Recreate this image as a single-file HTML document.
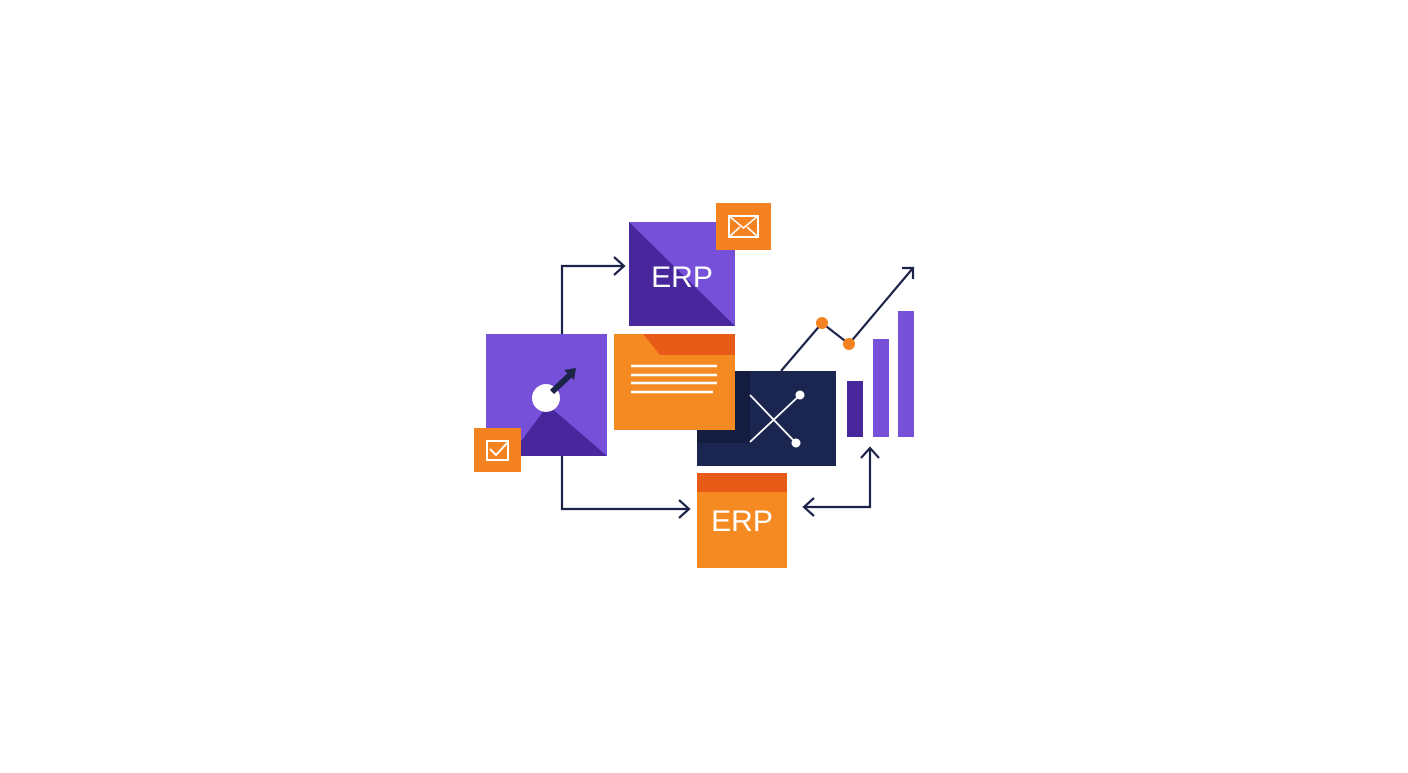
<!DOCTYPE html>
<html><head><style>body{margin:0;background:#fff}</style></head><body>
<svg width="1408" height="768" viewBox="0 0 1408 768" xmlns="http://www.w3.org/2000/svg" font-family="Liberation Sans, sans-serif">
<rect width="1408" height="768" fill="#fff"/>
<g fill="none" stroke="#1b2348" stroke-width="2.2">
<path d="M562 334V266H624"/><path d="M614 257l10 9-10 9"/>
<path d="M562 456V509H689"/><path d="M679 500l10 9-10 9"/>
<path d="M870 449V507H804"/><path d="M814 498l-10 9 10 9"/><path d="M861 458l9-10 9 10"/>
<path d="M781 371L822 323L849 344L913 268"/><path d="M902 268h11v11"/>
</g>
<!-- top ERP -->
<rect x="629" y="222" width="106" height="104" fill="#7650d8"/>
<polygon points="629,222 735,326 629,326" fill="#48279c"/>
<text x="682" y="287" fill="#fff" font-size="30" text-anchor="middle">ERP</text>
<rect x="716" y="203" width="55" height="47" fill="#f58220"/>
<rect x="729" y="216" width="29" height="21" fill="none" stroke="#fff" stroke-width="2"/>
<path d="M729 216l14.5 12 14.5-12M729 237l11-10M758 237l-11-10" fill="none" stroke="#fff" stroke-width="1.6"/>
<!-- left box -->
<rect x="486" y="334" width="121" height="122" fill="#7650d8"/>
<polygon points="510,456 548,405 607,456" fill="#48279c"/>
<circle cx="546" cy="398" r="14" fill="#fff"/>
<path d="M552 392L570 375" stroke="#1b2348" stroke-width="6"/>
<polygon points="564,370 576,368 574,380" fill="#1b2348"/>
<rect x="474" y="428" width="47" height="44" fill="#f58220"/>
<rect x="487" y="441" width="21" height="19" fill="none" stroke="#fff" stroke-width="2"/>
<path d="M490 449l6 6 12-13" fill="none" stroke="#fff" stroke-width="2"/>
<!-- navy -->
<rect x="697" y="371" width="139" height="95" fill="#1b2650"/>
<rect x="697" y="371" width="53" height="72" fill="#141c40"/>
<path d="M750 442L800 395M750 395L796 443" stroke="#fff" stroke-width="1.8"/>
<circle cx="800" cy="395" r="4.5" fill="#fff"/><circle cx="796" cy="443" r="4.5" fill="#fff"/>
<!-- orange doc -->
<rect x="614" y="334" width="121" height="96" fill="#f68a22"/>
<polygon points="643,334 735,334 735,355 660,355" fill="#e85a17"/>
<g stroke="#fff" stroke-width="2.5"><path d="M631 366H717M631 375H717M631 383H717M631 392H713"/></g>
<!-- chart -->
<circle cx="822" cy="323" r="6" fill="#f58220"/><circle cx="849" cy="344" r="6" fill="#f58220"/>
<rect x="847" y="381" width="16" height="56" fill="#48279c"/>
<rect x="873" y="339" width="16" height="98" fill="#7650d8"/>
<rect x="898" y="311" width="16" height="126" fill="#7650d8"/>
<!-- bottom ERP -->
<rect x="697" y="473" width="90" height="95" fill="#f68a22"/>
<rect x="697" y="473" width="90" height="19" fill="#e85a17"/>
<text x="742" y="531" fill="#fff" font-size="30" text-anchor="middle">ERP</text>
</svg>
</body></html>
